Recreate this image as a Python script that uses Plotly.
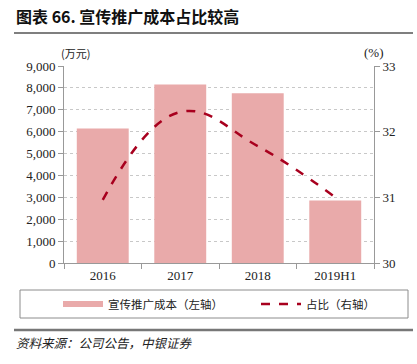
import plotly.graph_objects as go

categories = ["2016", "2017", "2018", "2019H1"]
cost = [6150, 8150, 7750, 2850]          # 宣传推广成本 (万元)
ratio = [30.96, 32.3, 31.78, 31.0]       # 占比 (%)
left_ticks = [0, 1000, 2000, 3000, 4000, 5000, 6000, 7000, 8000, 9000]
right_ticks = [30, 31, 32, 33]

W, H = 417, 364
L, R, T, B = 64, 374, 66, 263

def px(x):
    return (x - L) / (R - L)

def py(y):
    return (B - y) / (B - T)

serif = "Liberation Serif, Times New Roman, serif"
cjk = "Noto Sans CJK SC, sans-serif"
bar_color = "#E9AAAA"

fig = go.Figure()
fig.add_trace(go.Bar(
    x=categories, y=cost, name="宣传推广成本（左轴）",
    marker=dict(color=bar_color, line=dict(width=0)),
    width=0.67, yaxis="y", showlegend=False,
))
# legend swatch for the bars (wide thin bar as in reference)
fig.add_trace(go.Scatter(
    x=[None], y=[None], name="宣传推广成本（左轴）", mode="lines",
    line=dict(color=bar_color, width=6), yaxis="y", legend="legend",
))
fig.add_trace(go.Scatter(
    x=categories, y=ratio, name="占比（右轴）", mode="lines",
    line=dict(color="#A8001E", width=2.5, dash="dash", shape="spline", smoothing=1.2),
    yaxis="y2", legend="legend2",
))

leg_common = dict(
    orientation="h", xanchor="left", yanchor="middle",
    xref="paper", yref="paper",
    font=dict(family=cjk, size=11.5, color="#222"),
    bgcolor="rgba(0,0,0,0)", borderwidth=0, itemwidth=40,
)

fig.update_layout(
    width=W, height=H,
    margin=dict(l=L, r=W - R, t=T, b=H - B, pad=0),
    paper_bgcolor="white", plot_bgcolor="white",
    font=dict(family=serif, size=12, color="#222"),
    showlegend=True,
    xaxis=dict(
        type="category", showline=True, linecolor="#999", linewidth=1,
        ticks="outside", ticklen=5, tickcolor="#999", tickson="boundaries",
        tickfont=dict(family=serif, size=13, color="#222"),
        showgrid=False, zeroline=False,
    ),
    yaxis=dict(
        range=[0, 9000], tickvals=left_ticks, tickformat=",",
        showline=True, linecolor="#999", linewidth=1,
        ticks="outside", ticklen=5, tickcolor="#999",
        tickfont=dict(family=serif, size=13, color="#222"),
        showgrid=True, gridcolor="#c8c8c8", griddash="dot", gridwidth=1,
        zeroline=False,
    ),
    yaxis2=dict(
        range=[30, 33], tickvals=right_ticks, overlaying="y", side="right",
        showline=True, linecolor="#999", linewidth=1,
        ticks="outside", ticklen=5, tickcolor="#999",
        tickfont=dict(family=serif, size=13, color="#222"),
        showgrid=False, zeroline=False,
    ),
    legend=dict(x=px(58), y=py(304), **leg_common),
    legend2=dict(x=px(256), y=py(304), **leg_common),
)

shapes = [
    dict(type="rect", xref="paper", yref="paper", x0=px(20), x1=px(408), y0=py(290), y1=py(318),
         line=dict(color="#8c8c8c", width=1), fillcolor="rgba(0,0,0,0)"),
    dict(type="line", xref="paper", yref="paper", x0=px(14), x1=px(413), y0=py(33), y1=py(33),
         line=dict(color="#555", width=1.5)),
    dict(type="line", xref="paper", yref="paper", x0=px(14), x1=px(413), y0=py(330), y1=py(330),
         line=dict(color="#777", width=2.5)),
]
fig.update_layout(shapes=shapes)

annotations = [
    dict(text="<b>图表 66. 宣传推广成本占比较高</b>", x=px(14), y=py(16), xref="paper", yref="paper",
         xanchor="left", yanchor="middle", showarrow=False,
         font=dict(family=cjk, size=16, color="#111")),
    dict(text="(万元)", x=px(75), y=py(53), xref="paper", yref="paper",
         xanchor="center", yanchor="middle", showarrow=False,
         font=dict(family=cjk, size=11, color="#222")),
    dict(text="(%)", x=px(374), y=py(53), xref="paper", yref="paper",
         xanchor="center", yanchor="middle", showarrow=False,
         font=dict(family=serif, size=13, color="#222")),
    dict(text="<i>资料来源：公司公告，中银证券</i>", x=px(14), y=py(342), xref="paper", yref="paper",
         xanchor="left", yanchor="middle", showarrow=False,
         font=dict(family=cjk, size=12.5, color="#222")),
]
fig.update_layout(annotations=annotations)

fig.write_html(
    "out.html",
    config={"displayModeBar": False},
    post_script="document.body.style.margin='0';document.body.style.overflow='hidden';",
)
